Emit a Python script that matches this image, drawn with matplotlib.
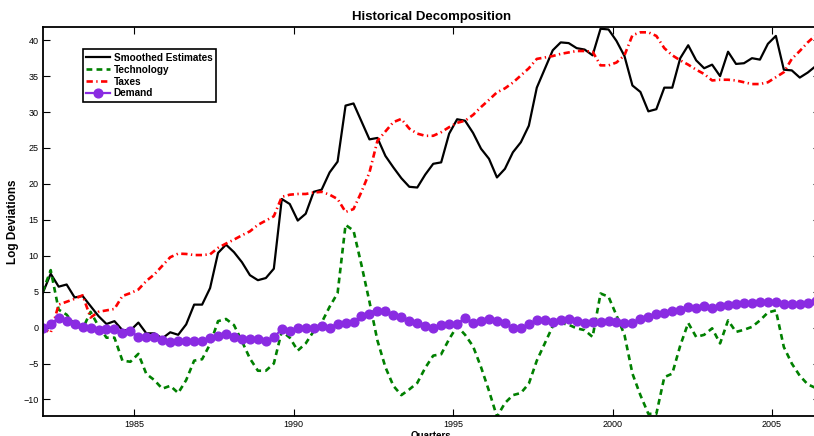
import numpy as np
import matplotlib
matplotlib.use("Agg")
import matplotlib.pyplot as plt

plt.rcParams["font.family"] = ["Liberation Sans", "DejaVu Sans"]

# quarterly data, first observation at 1982.125
start_year = 1982.125

smoothed = [
    4.8, 7.5, 5.7, 6.0, 4.2, 4.4, 3.0, 1.6, 0.5, 0.9,
    -0.35, -0.4, 0.7, -0.8, -0.8, -1.5, -0.65, -1.0, 0.45, 3.2,
    3.2, 5.5, 10.4, 11.55, 10.5, 9.1, 7.3, 6.6, 6.9, 8.2,
    17.9, 17.2, 14.9, 15.85, 18.9, 19.2, 21.6, 23.1, 30.9, 31.2,
    28.7, 26.2, 26.4, 23.9, 22.3, 20.8, 19.6, 19.5, 21.3, 22.8,
    23.0, 27.0, 29.0, 28.8, 27.1, 24.9, 23.5, 20.9, 22.1, 24.4,
    25.8, 28.1, 33.4, 36.0, 38.6, 39.7, 39.6, 38.9, 38.7, 37.9,
    41.6, 41.5, 39.9, 37.8, 33.7, 32.8, 30.1, 30.4, 33.4, 33.4,
    37.5, 39.3, 37.2, 36.1, 36.6, 35.0, 38.4, 36.7, 36.8, 37.5,
    37.3, 39.5, 40.6, 35.9, 35.8, 34.8, 35.5, 36.4,
]

technology = [
    5.0, 8.0, 2.5, 1.8, 0.4, -0.2, 2.2, 0.2, -1.4, -1.4,
    -4.6, -4.75, -3.65, -6.45, -7.3, -8.5, -8.1, -9.1, -7.3, -4.6,
    -4.4, -2.3, 0.9, 1.2, 0.35, -1.9, -4.3, -6.0, -6.0, -5.0,
    -0.5, -1.4, -3.2, -2.2, -0.5, 0.7, 2.9, 4.8, 14.3, 13.5,
    8.7, 3.6, -1.8, -5.5, -8.1, -9.4, -8.6, -7.7, -5.6, -3.9,
    -3.7, -1.6, 0.2, -1.0, -2.6, -5.5, -8.8, -12.4, -10.5, -9.4,
    -9.1, -7.8, -4.6, -2.2, 0.2, 0.65, 0.4, -0.1, -0.35, -1.3,
    4.75, 4.3, 1.7, -1.0, -6.4, -9.4, -12.0, -12.0, -6.9, -6.4,
    -2.5, 0.65, -1.3, -1.0, -0.1, -2.2, 1.0, -0.6, -0.3, 0.1,
    1.0, 2.1, 2.4, -2.7, -5.0, -6.7, -7.9, -8.4,
]

taxes = [
    -0.1, -0.7, 3.2, 3.6, 4.0, 4.5, 1.4, 2.2, 2.4, 2.6,
    4.4, 4.8, 5.3, 6.5, 7.4, 8.6, 9.8, 10.3, 10.25, 10.1,
    10.1, 10.2, 11.1, 11.7, 12.25, 12.85, 13.4, 14.3, 14.9, 15.5,
    18.2, 18.5, 18.6, 18.6, 18.8, 18.9, 18.5, 17.9, 16.1, 16.5,
    18.9, 21.6, 26.0, 27.3, 28.6, 29.05, 27.7, 27.0, 26.7, 26.7,
    27.2, 27.9, 28.5, 28.8, 29.6, 30.7, 31.7, 32.75, 33.3, 34.1,
    35.1, 36.1, 37.4, 37.6, 37.8, 38.1, 38.3, 38.5, 38.5, 38.4,
    36.5, 36.5, 36.9, 37.9, 40.7, 41.1, 41.1, 40.6, 38.9, 37.9,
    37.2, 36.6, 35.9, 35.3, 34.4, 34.5, 34.5, 34.4, 34.15, 33.9,
    33.9, 34.15, 34.85, 35.55, 37.4, 38.5, 39.7, 40.7,
]

demand = [
    -0.1, 0.5, 1.3, 0.95, 0.45, 0.1, 0.0, -0.3, -0.25, -0.2,
    -0.7, -0.45, -1.3, -1.3, -1.3, -1.75, -2.05, -1.9, -1.8, -1.9,
    -1.85, -1.5, -1.2, -0.95, -1.35, -1.6, -1.65, -1.6, -1.85, -1.35,
    -0.2, -0.45, -0.1, 0.0, -0.1, 0.2, 0.0, 0.55, 0.65, 0.8,
    1.6, 1.9, 2.3, 2.3, 1.8, 1.5, 0.95, 0.65, 0.2, -0.1,
    0.3, 0.55, 0.55, 1.3, 0.7, 0.9, 1.15, 0.9, 0.6, -0.1,
    -0.1, 0.55, 1.05, 1.0, 0.85, 1.0, 1.2, 0.9, 0.6, 0.85,
    0.85, 0.9, 0.85, 0.65, 0.7, 1.25, 1.45, 1.85, 2.1, 2.3,
    2.5, 2.8, 2.7, 3.0, 2.7, 3.05, 3.1, 3.25, 3.45, 3.45,
    3.6, 3.6, 3.6, 3.35, 3.35, 3.25, 3.45, 3.7,
]

year_ticks = [1985, 1990, 1995, 2000, 2005]
value_ticks = [-10, -5, 0, 5, 10, 15, 20, 25, 30, 35, 40]

quarters = start_year + 0.25 * np.arange(len(smoothed))

fig = plt.figure(figsize=(8.14, 4.36), dpi=100)
# right edge of the axes runs a little past the image, as in the original crop
ax = fig.add_axes([0.0525, 0.0459, 0.9545, 0.8915])

ax.plot(quarters, smoothed, color="black", lw=1.6, label="Smoothed Estimates")
ax.plot(quarters, technology, color="#008000", lw=1.9, ls=(0, (2.2, 1.6)),
        label="Technology")
ax.plot(quarters, taxes, color="red", lw=1.9, ls=(0, (2.4, 1.3, 0.5, 1.3)),
        label="Taxes")
ax.plot(quarters, demand, color="#8a2be2", lw=1.6, marker="o", ms=6.3,
        mec="#8a2be2", mfc="#8a2be2", label="Demand")

ax.set_xlim(start_year, 2006.5)
ax.set_ylim(-12.3, 41.8)
ax.set_xticks(year_ticks)
ax.set_yticks(value_ticks)
ax.tick_params(direction="in", top=True, right=True, length=5, width=0.8,
               labelsize=6.5, pad=3)
for spine in ax.spines.values():
    spine.set_linewidth(1.3)

ax.set_title("Historical Decomposition", fontsize=9.5, fontweight="bold", pad=5)
ax.set_ylabel("Log Deviations", fontsize=8.5, fontweight="bold", labelpad=3)
ax.set_xlabel("Quarters", fontsize=7, fontweight="bold", labelpad=1)

leg = ax.legend(loc="upper left", bbox_to_anchor=(0.0515, 0.943),
                borderaxespad=0, fancybox=False, edgecolor="black",
                framealpha=1, numpoints=1, handlelength=2.4,
                handletextpad=0.35, labelspacing=0.18, borderpad=0.35,
                prop={"weight": "bold", "size": 7.2})
leg.get_frame().set_linewidth(1.2)

fig.savefig("out.png", dpi=100)
